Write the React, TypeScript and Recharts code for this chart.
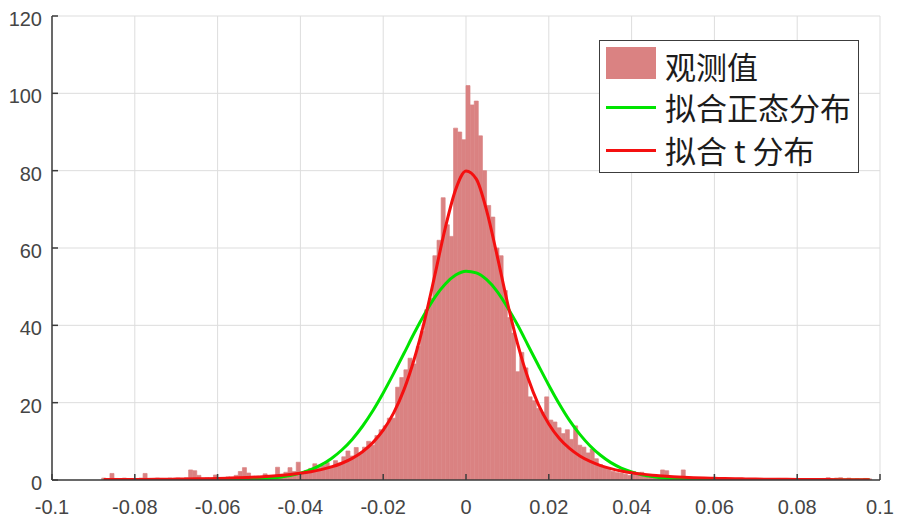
import React from "react";
import { ComposedChart, Bar, Line, XAxis, YAxis, CartesianGrid, Legend } from "recharts";

// ---------- data ----------
const BIN_START = -0.0875; // centre of first histogram bin
const BIN_WIDTH = 0.001;
const observedCounts = [
  0.5, 0, 1.7, 0.4, 0, 0.5, 0, 0.4, 0, 0.5,
  1.7, 0.4, 0, 0.5, 0.4, 0, 0.5, 0.4, 0.5, 0,
  0.6, 2.6, 2.4, 1.2, 0.5, 0.6, 0.4, 1.3, 0.5, 0.6,
  0.8, 0.5, 1.2, 2.2, 3.2, 1.8, 0.9, 1.0, 0.8, 1.6,
  1.1, 1.0, 3.3, 1.5, 2.0, 3.2, 2.2, 4.6, 2.0, 2.5,
  3.0, 4.2, 3.2, 3.8, 4.5, 3.6, 5.0, 4.4, 6.0, 7.5,
  6.2, 8.4, 7.0, 8.5, 10.0, 9.0, 11.5, 13.0, 14.0, 16.0,
  16.0, 24.0, 26.5, 28.5, 31.5, 30.0, 34.5, 38.5, 44.0, 47.0,
  58.0, 62.0, 73.0, 66.0, 63.0, 91.0, 90.0, 88.0, 102.0, 97.0,
  98.0, 89.0, 80.0, 71.0, 68.0, 60.0, 58.0, 49.0, 42.0, 38.0,
  28.0, 33.0, 29.0, 21.5, 20.5, 18.5, 17.5, 21.5, 15.5, 15.0,
  13.5, 12.0, 13.0, 10.5, 14.0, 9.0, 8.5, 7.0, 8.0, 5.5,
  4.0, 3.5, 2.8, 2.2, 1.9, 1.8, 1.5, 1.2, 2.2, 1.4,
  2.0, 0.8, 0.9, 0.6, 1.2, 2.6, 2.4, 0.8, 0.5, 0.6,
  2.6, 0.5, 0.4, 0.4, 0.3, 0.6, 0, 0.4, 0.3, 0,
  0.5, 0.3, 0, 0.4, 0.3, 0, 0.4, 0, 0.3, 0.4,
  0, 0.3, 0, 0.4, 0, 0.3, 0, 0.4, 0, 0.3,
  0, 0, 0.3, 0, 0.4, 0.6, 0, 0.5, 0.6, 0,
  0.5, 0, 0.3, 0, 0.4, 0.3,
];

const CURVE_START = -0.0875;
const CURVE_STEP = 0.0025;
const normalFit = [
  0, 0, 0, 0, 0, 0, 0, 0, 0, 0,
  0.01, 0.03, 0.05, 0.09, 0.15, 0.27, 0.44, 0.72, 1.14, 1.77,
  2.66, 3.9, 5.57, 7.76, 10.5, 13.9, 17.9, 22.5, 27.5, 32.7,
  38.0, 42.9, 47.3, 50.7, 53.0, 54.0, 53.55, 51.8, 48.8, 44.7,
  40.0, 34.8, 29.6, 24.5, 19.7, 15.4, 11.8, 8.8, 6.4, 4.5,
  3.1, 2.1, 1.37, 0.87, 0.54, 0.33, 0.19, 0.11, 0.06, 0.03,
  0.01, 0, 0, 0, 0, 0, 0, 0, 0, 0, 0, 0, 0, 0, 0,
];
const tFit = [
  0.10, 0.11, 0.12, 0.14, 0.16, 0.18, 0.20, 0.23, 0.26, 0.30,
  0.35, 0.41, 0.48, 0.56, 0.67, 0.79, 0.95, 1.15, 1.40, 1.72,
  2.14, 2.68, 3.38, 4.33, 5.60, 7.32, 9.67, 12.9, 17.3, 23.3,
  31.3, 41.3, 53.1, 65.2, 75.1, 79.9, 77.8, 69.6, 58.1, 45.9,
  35.1, 26.3, 19.5, 14.5, 10.8, 8.17, 6.22, 4.79, 3.73, 2.93,
  2.33, 1.87, 1.52, 1.24, 1.03, 0.85, 0.71, 0.60, 0.51, 0.44,
  0.37, 0.32, 0.28, 0.24, 0.21, 0.19, 0.17, 0.15, 0.13, 0.12, 0.10, 0.09, 0.08, 0.08, 0.07,
];

const xTicks = [-0.1, -0.08, -0.06, -0.04, -0.02, 0, 0.02, 0.04, 0.06, 0.08, 0.1];
const yTicks = [0, 20, 40, 60, 80, 100, 120];
const seriesNames = ["观测值", "拟合正态分布", "拟合 t 分布"];

// ---------- tables built from the arrays ----------
const histData = observedCounts.map((c, i) => ({
  x: Number((BIN_START + i * BIN_WIDTH).toFixed(5)),
  count: c,
}));
const normalData = normalFit.map((v, i) => ({
  x: Number((CURVE_START + i * CURVE_STEP).toFixed(5)),
  y: v,
}));
const tData = tFit.map((v, i) => ({
  x: Number((CURVE_START + i * CURVE_STEP).toFixed(5)),
  y: v,
}));

// ---------- styles ----------
const BAR_COLOR = "#da8282";
const GREEN = "#00e400";
const RED = "#f41010";
const AXIS = "#3c3c3c";
const GRID = "#dddddd";
const tickStyle = {
  fontSize: 20,
  fill: "#454545",
  fontFamily: '"Liberation Sans", Arial, sans-serif',
};

const LegendBox = () => {
  const textStyle: React.CSSProperties = {
    position: "absolute",
    left: 65,
    height: 40,
    lineHeight: "40px",
    whiteSpace: "pre",
  };
  return (
    <div
      style={{
        width: 260,
        height: 133,
        boxSizing: "border-box",
        border: `1.5px solid ${AXIS}`,
        background: "#fff",
        position: "relative",
        fontFamily: '"Noto Sans CJK SC", sans-serif',
        fontSize: 31,
        color: "#1c1c1c",
      }}
    >
      <div
        style={{
          position: "absolute",
          left: 6,
          top: 6,
          width: 50,
          height: 32,
          background: BAR_COLOR,
        }}
      />
      <div style={{ ...textStyle, top: 5 }}>{seriesNames[0]}</div>
      <div style={{ position: "absolute", left: 6, top: 65, width: 50, height: 3, background: GREEN }} />
      <div style={{ ...textStyle, top: 46 }}>{seriesNames[1]}</div>
      <div style={{ position: "absolute", left: 6, top: 108, width: 50, height: 3, background: RED }} />
      <div style={{ ...textStyle, top: 89 }}>{seriesNames[2]}</div>
    </div>
  );
};

export default function App() {
  return (
    <div style={{ position: "absolute", left: 0, top: 0, width: 897, height: 528, background: "#fff" }}>
      <ComposedChart
        width={897}
        height={528}
        data={histData}
        margin={{ top: 16, right: 17, bottom: 0, left: 0 }}
        barCategoryGap={0}
        barGap={0}
      >
        <CartesianGrid stroke={GRID} strokeWidth={1} />
        <Bar
          dataKey="count"
          name={seriesNames[0]}
          fill={BAR_COLOR}
          stroke={BAR_COLOR}
          strokeWidth={0.7}
          barSize={4}
          isAnimationActive={false}
        />
        <Line
          xAxisId="curve"
          data={normalData}
          dataKey="y"
          name={seriesNames[1]}
          type="monotone"
          stroke={GREEN}
          strokeWidth={3}
          dot={false}
          activeDot={false}
          isAnimationActive={false}
        />
        <Line
          xAxisId="curve"
          data={tData}
          dataKey="y"
          name={seriesNames[2]}
          type="monotone"
          stroke={RED}
          strokeWidth={3}
          dot={false}
          activeDot={false}
          isAnimationActive={false}
        />
        <XAxis
          dataKey="x"
          type="number"
          domain={[-0.1, 0.1]}
          ticks={xTicks}
          interval={0}
          allowDataOverflow
          height={48}
          tickSize={-6}
          tickMargin={26}
          axisLine={{ stroke: AXIS, strokeWidth: 1.5 }}
          tickLine={{ stroke: AXIS, strokeWidth: 1.5 }}
          tick={tickStyle}
        />
        <XAxis
          xAxisId="top"
          orientation="top"
          type="number"
          domain={[-0.1, 0.1]}
          ticks={xTicks}
          interval={0}
          allowDataOverflow
          height={0}
          tickSize={-6}
          tickFormatter={() => ""}
          axisLine={{ stroke: AXIS, strokeWidth: 1.5 }}
          tickLine={{ stroke: AXIS, strokeWidth: 1.5 }}
        />
        <XAxis
          xAxisId="curve"
          dataKey="x"
          type="number"
          domain={[-0.1, 0.1]}
          allowDataOverflow
          hide
        />
        <YAxis
          type="number"
          domain={[0, 120]}
          ticks={yTicks}
          interval={0}
          allowDataOverflow
          width={52}
          tickSize={-6}
          tickMargin={16}
          axisLine={{ stroke: AXIS, strokeWidth: 1.5 }}
          tickLine={{ stroke: AXIS, strokeWidth: 1.5 }}
          tick={{ ...tickStyle, dy: 3 }}
        />
        <YAxis
          yAxisId="right"
          orientation="right"
          type="number"
          domain={[0, 120]}
          ticks={yTicks}
          interval={0}
          allowDataOverflow
          width={0}
          tickSize={-6}
          tickFormatter={() => ""}
          axisLine={{ stroke: AXIS, strokeWidth: 1.5 }}
          tickLine={{ stroke: AXIS, strokeWidth: 1.5 }}
        />
        <Legend
          layout="vertical"
          align="center"
          verticalAlign="middle"
          wrapperStyle={{ left: 599, top: 40, width: 260 }}
          content={() => <LegendBox />}
        />
      </ComposedChart>
    </div>
  );
}
